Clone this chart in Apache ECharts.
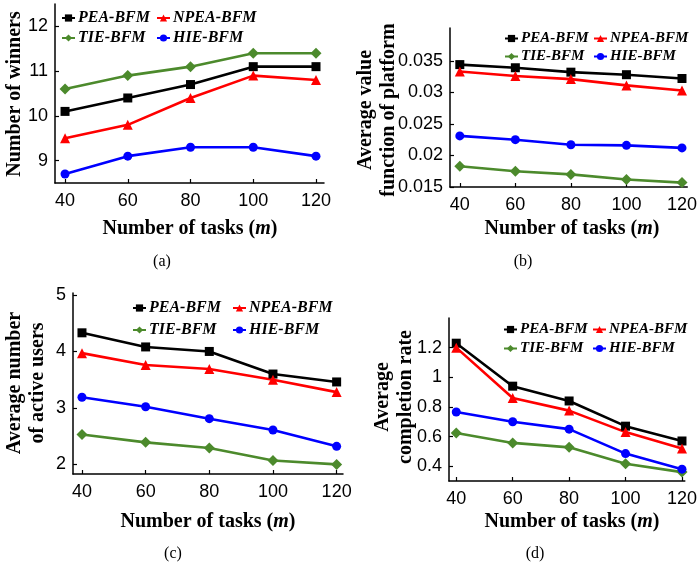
<!DOCTYPE html>
<html>
<head>
<meta charset="utf-8">
<script src="https://cdn.jsdelivr.net/npm/echarts@6/dist/echarts.min.js"></script>
<style>html,body{margin:0;padding:0;background:#fff}#c{width:700px;height:570px}</style>
</head>
<body>
<div id="c"></div>
<script>
// ---- data ----
const xTicks = [40, 60, 80, 100, 120];
const names = ['PEA-BFM', 'NPEA-BFM', 'TIE-BFM', 'HIE-BFM'];

// (a) Number of winners
const winPEA  = [10.1, 10.4, 10.7, 11.1, 11.1];
const winNPEA = [9.5, 9.8, 10.4, 10.9, 10.8];
const winTIE  = [10.6, 10.9, 11.1, 11.4, 11.4];
const winHIE  = [8.7, 9.1, 9.3, 9.3, 9.1];
const winYTicks = [9, 10, 11, 12];

// (b) Average value function of platform
const valPEA  = [0.0344, 0.0339, 0.0332, 0.0328, 0.0322];
const valNPEA = [0.0333, 0.0326, 0.0321, 0.0311, 0.0303];
const valTIE  = [0.0183, 0.0175, 0.0170, 0.0162, 0.0157];
const valHIE  = [0.0231, 0.0225, 0.0217, 0.0216, 0.0212];
const valYTicks = [0.015, 0.02, 0.025, 0.03, 0.035];

// (c) Average number of active users
const actPEA  = [4.33, 4.08, 4.0, 3.6, 3.46];
const actNPEA = [3.97, 3.76, 3.69, 3.50, 3.28];
const actTIE  = [2.53, 2.39, 2.29, 2.07, 2.0];
const actHIE  = [3.19, 3.02, 2.81, 2.61, 2.32];
const actYTicks = [2, 3, 4, 5];

// (d) Average completion rate
const cmpPEA  = [1.23, 0.94, 0.84, 0.67, 0.57];
const cmpNPEA = [1.2, 0.86, 0.775, 0.63, 0.52];
const cmpTIE  = [0.624, 0.557, 0.527, 0.416, 0.36];
const cmpHIE  = [0.766, 0.70, 0.65, 0.485, 0.38];
const cmpYTicks = [0.4, 0.6, 0.8, 1, 1.2];

// ---- style ----
const colors = ['#000000', '#ff0000', '#4c8a2c', '#0000ff'];
const symbols = ['rect', 'triangle', 'diamond', 'circle'];
const symSizes = [9, 10, 11, 9];
const serif = '"Liberation Serif","Times New Roman",serif';
const sans = '"Liberation Sans",Arial,sans-serif';

const panels = [
  { grid: {left: 55, top: 4, width: 269, height: 179}, xr: [36.8, 122.55], yr: [8.5, 12.5], yt: winYTicks,
    data: [winPEA, winNPEA, winTIE, winHIE], leg: {rows: [19, 39], cols: [61, 156], fs: 16} },
  { grid: {left: 450, top: 28, width: 242, height: 159}, xr: [36.47, 121.9], yr: [0.015, 0.0402], yt: valYTicks,
    data: [valPEA, valNPEA, valTIE, valHIE], leg: {rows: [40, 58], cols: [504, 593], fs: 15} },
  { grid: {left: 73, top: 293, width: 270, height: 181}, xr: [37.18, 122], yr: [1.83, 5.035], yt: actYTicks,
    data: [actPEA, actNPEA, actTIE, actHIE], leg: {rows: [309, 331], cols: [132, 232], fs: 16} },
  { grid: {left: 449, top: 318, width: 241, height: 163}, xr: [37.43, 121.0], yr: [0.3, 1.4], yt: cmpYTicks,
    data: [cmpPEA, cmpNPEA, cmpTIE, cmpHIE], leg: {rows: [331, 350], cols: [503, 592], fs: 15} }
];

const option = { animation: false, backgroundColor: '#fff', grid: [], xAxis: [], yAxis: [], series: [], legend: [], graphic: [] };

panels.forEach((p, i) => {
  option.grid.push(Object.assign({containLabel: false}, p.grid));
  option.xAxis.push({
    type: 'value', gridIndex: i, min: p.xr[0], max: p.xr[1],
    axisLine: {onZero: false, lineStyle: {color: '#000', width: 1.5}},
    axisTick: {show: true, inside: true, length: 4, customValues: xTicks, lineStyle: {color: '#000', width: 1.2}},
    axisLabel: {customValues: xTicks, margin: 9, color: '#000', fontFamily: sans, fontSize: 18},
    splitLine: {show: false}
  });
  option.yAxis.push({
    type: 'value', gridIndex: i, min: p.yr[0], max: p.yr[1],
    axisLine: {show: true, onZero: false, lineStyle: {color: '#000', width: 1.5}},
    axisTick: {show: true, inside: true, length: 4, customValues: p.yt, lineStyle: {color: '#000', width: 1.2}},
    axisLabel: {customValues: p.yt, margin: 7, color: '#000', fontFamily: sans, fontSize: 18,
      formatter: v => String(parseFloat(v.toFixed(4)))},
    splitLine: {show: false}
  });
  names.forEach((n, k) => {
    option.series.push({
      name: n, type: 'line', xAxisIndex: i, yAxisIndex: i,
      data: xTicks.map((x, j) => [x, p.data[k][j]]),
      symbol: symbols[k], symbolSize: symSizes[k], showSymbol: true,
      lineStyle: {color: colors[k], width: 2.6},
      itemStyle: {color: colors[k]}, color: colors[k]
    });
    const r = Math.floor(k / 2), c = k % 2;
    option.legend.push({
      data: [n], left: p.leg.cols[c], top: p.leg.rows[r] - 9, padding: 0,
      itemWidth: 13, itemHeight: 9, selectedMode: false,
      textStyle: {fontFamily: serif, fontWeight: 'bold', fontStyle: 'italic', fontSize: p.leg.fs, color: '#000', padding: [0, 0, 0, -2]}
    });
  });
});

// axis titles and panel labels (text only)
const yTitles = [
  {x: 15, y: 94, t: 'Number of winners'},
  {x: 377, y: 110, t: 'Average value\nfunction of platform'},
  {x: 26, y: 383, t: 'Average number\nof active users'},
  {x: 394, y: 397, t: 'Average\ncompletion rate'}
];
const xTitlePos = [[190, 229], [572, 229], [208, 522], [572, 522]];
const panelLabels = [['(a)', 162, 262], ['(b)', 523, 262], ['(c)', 173, 554], ['(d)', 535, 554]];

yTitles.forEach(t => option.graphic.push({
  type: 'text', x: t.x, y: t.y, rotation: Math.PI / 2, silent: true,
  style: {text: t.t, font: 'bold 20px ' + serif, fill: '#000', align: 'center', verticalAlign: 'middle',
    textAlign: 'center', textVerticalAlign: 'middle', lineHeight: 23}
}));
xTitlePos.forEach(pos => option.graphic.push({
  type: 'text', x: pos[0], y: pos[1], silent: true,
  style: {text: '{b|Number of tasks (}{i|m}{b|)}', fill: '#000', align: 'center', verticalAlign: 'middle',
    textAlign: 'center', textVerticalAlign: 'middle',
    rich: {b: {font: 'bold 20px ' + serif, fill: '#000'}, i: {font: 'italic bold 20px ' + serif, fill: '#000'}}}
}));
panelLabels.forEach(l => option.graphic.push({
  type: 'text', x: l[1], y: l[2], silent: true,
  style: {text: l[0], font: '16px ' + serif, fill: '#000', align: 'center', verticalAlign: 'middle',
    textAlign: 'center', textVerticalAlign: 'middle'}
}));

const chart = echarts.init(document.getElementById('c'), null, {renderer: 'canvas'});
chart.setOption(option);
</script>
</body>
</html>
